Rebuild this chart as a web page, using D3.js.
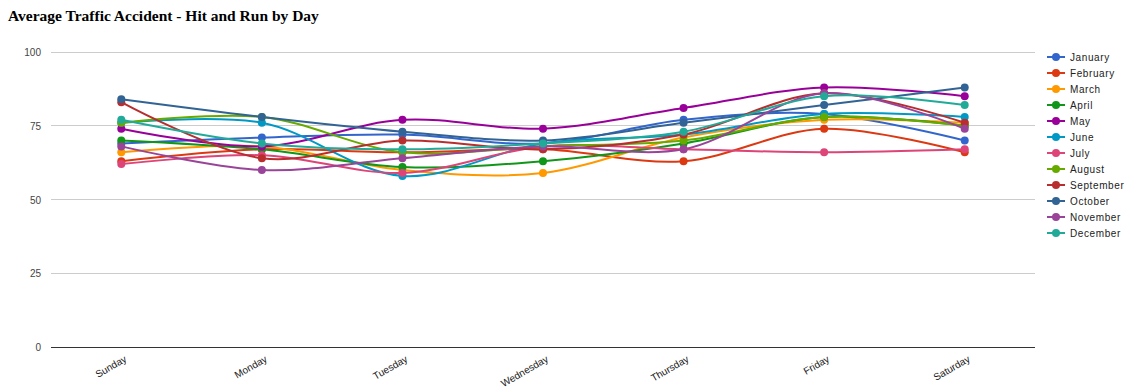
<!DOCTYPE html>
<html><head><meta charset="utf-8">
<script src="https://cdn.jsdelivr.net/npm/d3@7"></script>
<style>body{margin:0;background:#fff;} svg{display:block;}</style>
</head><body>
<svg id="c" width="1132" height="392"></svg>
<script>
const days = ["Sunday","Monday","Tuesday","Wednesday","Thursday","Friday","Saturday"];
const months = ["January","February","March","April","May","June","July","August","September","October","November","December"];
const colors = ["#3366cc","#dc3912","#ff9900","#109618","#990099","#0099c6","#dd4477","#66aa00","#b82e2e","#316395","#994499","#22aa99"];
const yTicks = [0,25,50,75,100];
const january   = [69,71,72,69,77,79,70];
const february  = [63,67,66,67,63,74,66];
const march     = [66,68,60,59,71,77,76];
const april     = [70,67,61,63,69,78,75];
const may       = [74,68,77,74,81,88,85];
const june      = [76,76,58,69,72,79,78];
const july      = [62,65,59,68,67,66,67];
const august    = [76,78,66,68,70,78,75];
const september = [83,64,70,67,72,86,76];
const october   = [84,78,73,70,76,82,88];
const november  = [68,60,64,68,67,86,74];
const december  = [77,69,67,69,73,85,82];
const series = [january,february,march,april,may,june,july,august,september,october,november,december];

(function(){
const svg = d3.select("#c");
const mL = 51, mR = 1035, mT = 52, mB = 347;
const x = d3.scaleBand().domain(days).range([mL,mR]);
const y = d3.scaleLinear().domain([0,100]).range([mB,mT]);
const cx = d => x(d) + x.bandwidth()/2;

svg.append("text").attr("x",8).attr("y",21)
  .attr("font-family","Liberation Serif, Times New Roman, serif")
  .attr("font-weight","bold").attr("font-size",15.5).attr("fill","#000")
  .text("Average Traffic Accident - Hit and Run by Day");

svg.append("g").selectAll("line").data(yTicks.filter(t=>t>0)).join("line")
  .attr("x1",mL).attr("x2",mR).attr("y1",d=>y(d)).attr("y2",d=>y(d))
  .attr("stroke","#cccccc").attr("stroke-width",1).attr("shape-rendering","crispEdges");
svg.append("g").selectAll("text").data(yTicks).join("text")
  .attr("x",41).attr("y",d=>y(d)+4).attr("text-anchor","end")
  .attr("font-family","Liberation Sans, Arial, sans-serif").attr("font-size",10).attr("fill","#444")
  .text(d=>d);
svg.append("line").attr("x1",mL).attr("x2",mR).attr("y1",y(0)).attr("y2",y(0))
  .attr("stroke","#333").attr("stroke-width",1).attr("shape-rendering","crispEdges");

svg.append("g").selectAll("text").data(days).join("text")
  .attr("transform",d=>`translate(${cx(d)+6},${y(0)+14}) rotate(-30)`)
  .attr("text-anchor","end")
  .attr("font-family","Liberation Sans, Arial, sans-serif").attr("font-size",10).attr("fill","#222")
  .text(d=>d);

const line = d3.line().x((d,i)=>cx(days[i])).y(d=>y(d)).curve(d3.curveCatmullRom.alpha(0.5));
const g = svg.append("g");
series.forEach((s,k)=>{
  g.append("path").attr("d",line(s)).attr("fill","none").attr("stroke",colors[k]).attr("stroke-width",2);
});
series.forEach((s,k)=>{
  g.append("g").selectAll("circle").data(s).join("circle")
    .attr("cx",(d,i)=>cx(days[i])).attr("cy",d=>y(d)).attr("r",4).attr("fill",colors[k]);
});

const lg = svg.append("g");
months.forEach((m,k)=>{
  const yy = 57 + k*16;
  lg.append("line").attr("x1",1047).attr("x2",1065).attr("y1",yy).attr("y2",yy).attr("stroke",colors[k]).attr("stroke-width",2);
  lg.append("circle").attr("cx",1056).attr("cy",yy).attr("r",4).attr("fill",colors[k]);
  lg.append("text").attr("x",1070).attr("y",yy+3.5)
    .attr("font-family","Liberation Sans, Arial, sans-serif").attr("font-size",10)
    .attr("letter-spacing",0.6).attr("fill","#222").text(m);
});
})();
</script>
</body></html>
